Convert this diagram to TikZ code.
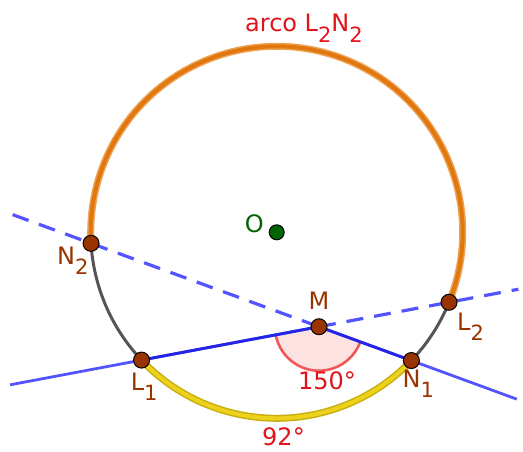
\documentclass[tikz,border=0pt]{standalone}
\usepackage{fontspec}
\setmainfont{DejaVu Sans}
\usetikzlibrary{positioning, calc, angles}
\definecolor{ptbrown}{HTML}{993300}
\definecolor{ggblue}{HTML}{5454FF}
\definecolor{segblue}{HTML}{2424E6}
\definecolor{arcorange}{HTML}{E0780F}
\definecolor{arcorangelight}{HTML}{EFA253}
\definecolor{arcgray}{HTML}{555555}
\definecolor{arcyellow}{HTML}{EDD21C}
\definecolor{arcolive}{HTML}{C9AE12}
\definecolor{txtred}{HTML}{E3131B}
\definecolor{ptgreen}{HTML}{006400}
\definecolor{anglepink}{HTML}{FDE2E2}
\definecolor{anglered}{HTML}{F25858}
\newcommand{\lowsub}[1]{\raisebox{-0.42em}{\fontsize{21}{21}\selectfont #1}}

\begin{document}
\begin{tikzpicture}[x=1pt, y=1pt,
    pt/.style={circle, fill=ptbrown, draw=black, line width=1pt,
               minimum size=16pt, inner sep=0pt},
    ptlabel/.style={text=ptbrown, font=\fontsize{24}{24}\selectfont,
                    inner sep=0pt},
    redlabel/.style={text=txtred, font=\fontsize{24}{24}\selectfont,
                     inner sep=0pt},
    dashline/.style={ggblue, line width=3.2pt, dash pattern=on 17pt off 11pt},
    fullline/.style={ggblue, line width=2.8pt}]
  \useasboundingbox (0,0) rectangle (523,451);

  % circle and points on it
  \coordinate (O) at (276.7,218.7);
  \coordinate (N2) at ($(O)+(183.4:186)$);
  \coordinate (L2) at ($(O)+(-22.1:186)$);
  \coordinate (L1) at ($(O)+(223.4:186)$);
  \coordinate (N1) at ($(O)+(316.4:186)$);
  \coordinate (M) at (intersection of N2--N1 and L1--L2);

  % free ends of the two lines
  \coordinate (wN) at ($(M)!1.344!(N2)$);
  \coordinate (eN) at ($(M)!2.14!(N1)$);
  \coordinate (wL) at ($(M)!1.741!(L1)$);
  \coordinate (eL) at ($(M)!1.533!(L2)$);

  % arcs
  \draw[arcorangelight, line width=7pt] (L2) arc[start angle=-22.1, end angle=183.4, radius=186];
  \draw[arcorange, line width=4pt] (L2) arc[start angle=-22.1, end angle=183.4, radius=186];
  \draw[arcgray, line width=3pt] (N2) arc[start angle=183.4, end angle=223.4, radius=186];
  \draw[arcgray, line width=3pt] (N1) arc[start angle=316.4, end angle=337.9, radius=186];
  \draw[arcolive, line width=7pt] (L1) arc[start angle=223.4, end angle=316.4, radius=186];
  \draw[arcyellow, line width=4pt] (L1) arc[start angle=223.4, end angle=316.4, radius=186];

  % angle at M
  \pic[fill=anglepink, draw=anglered, line width=2.6pt, angle radius=44pt] {angle = L1--M--N1};

  % lines
  \draw[dashline] (wN) -- (M);
  \draw[fullline] (M) -- (eN);
  \draw[fullline] (wL) -- (M);
  \draw[dashline] (M) -- (eL);
  \draw[segblue, line width=2.8pt] (L1) -- (M) -- (N1);

  % points
  \node[pt] (dN2) at (N2) {};
  \node[pt] (dL2) at (L2) {};
  \node[pt] (dL1) at (L1) {};
  \node[pt] (dN1) at (N1) {};
  \node[pt] (dM) at (M) {};
  \node[pt, fill=ptgreen, minimum size=15pt] (dO) at (O) {};

  % labels
  \node[ptlabel, anchor=base west] (labN2) at ($(N2)+(-34,-21)$) {N\lowsub{2}};
  \node[ptlabel, anchor=base west] (labL2) at ($(L2)+(8,-28)$) {L\lowsub{2}};
  \node[ptlabel, anchor=base west] (labL1) at ($(L1)+(-11,-30)$) {L\lowsub{1}};
  \node[ptlabel, anchor=base west] (labN1) at ($(N1)+(-9,-27)$) {N\lowsub{1}};
  \node[ptlabel, anchor=base] (labM) at ($(M)+(0,17)$) {M};
  \node[ptlabel, text=ptgreen, anchor=base west] (labO) at ($(O)+(-32,0)$) {O};
  \node[redlabel, anchor=base] (ang) at ($(M)+(8,-63)$) {150°};
  \node[redlabel, anchor=base] (arcL1N1) at (283.5,6) {92°};
  \node[redlabel, anchor=base west] (arcL2N2) at (245,419) {arco L\lowsub{2}N\lowsub{2}};
\end{tikzpicture}
\end{document}
